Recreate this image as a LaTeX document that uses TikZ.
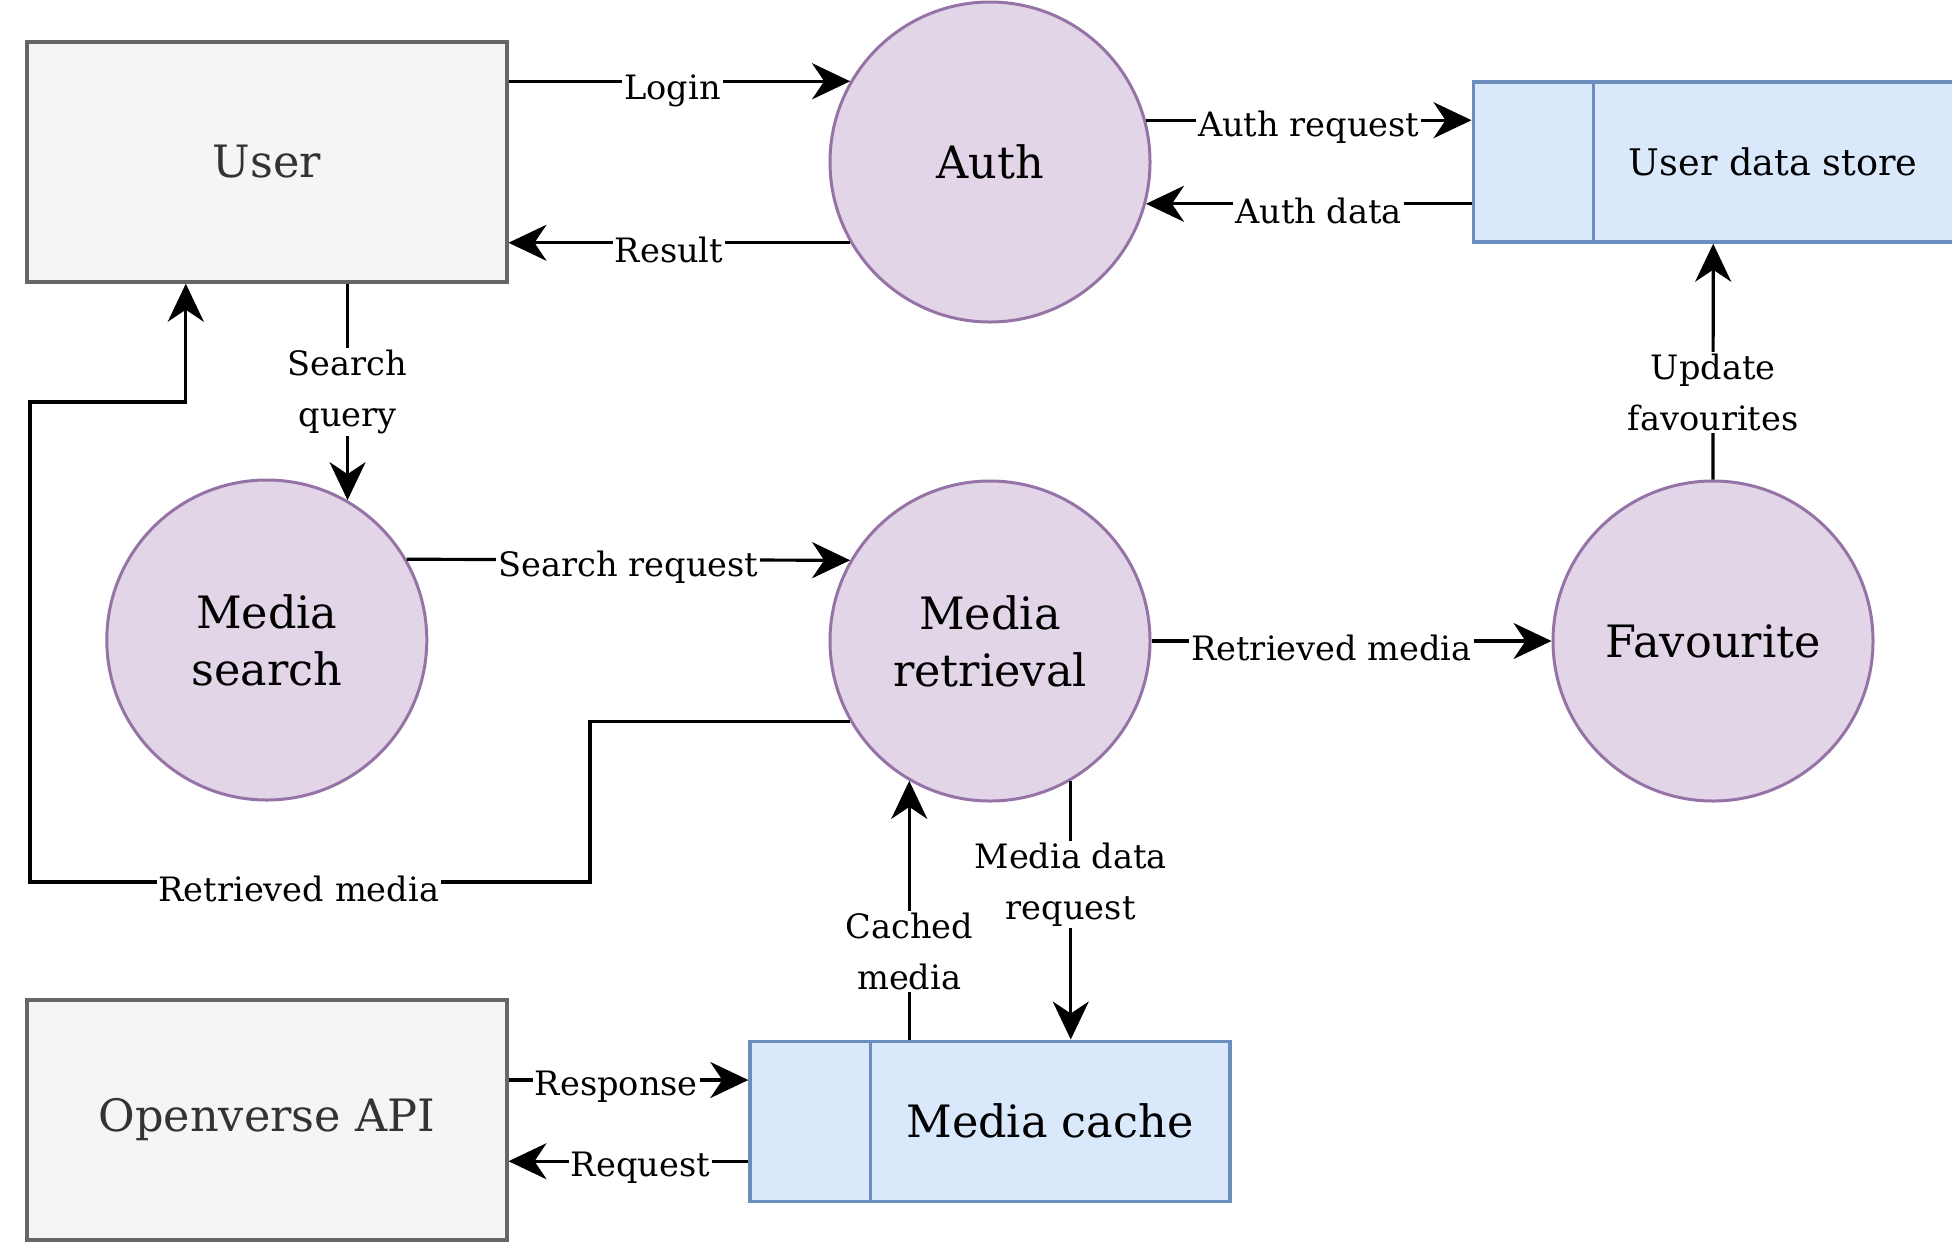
\documentclass[tikz,border=0pt]{standalone}
\usepackage{fontspec}
\setmainfont{DejaVu Serif}
\usetikzlibrary{arrows.meta, positioning, calc}
\definecolor{extfill}{HTML}{F5F5F5}
\definecolor{extline}{HTML}{666666}
\definecolor{exttext}{HTML}{333333}
\definecolor{procfill}{HTML}{E1D5E7}
\definecolor{procline}{HTML}{9673A6}
\definecolor{storefill}{HTML}{DAE8FC}
\definecolor{storeline}{HTML}{6C8EBF}
\tikzset{
  extent/.style={rectangle, draw=extline, fill=extfill, line width=1.7pt,
                 minimum width=240pt, minimum height=120pt,
                 text=exttext, font=\fontsize{22.3}{28}\selectfont},
  proc/.style={circle, draw=procline, fill=procfill, line width=1.5pt,
               minimum size=160pt, align=center,
               font=\fontsize{22.3}{28.5}\selectfont},
  store/.style={rectangle, draw=storeline, fill=storefill, line width=1.7pt,
                minimum width=240pt, minimum height=80pt,
                font=\fontsize{22.3}{28}\selectfont,
                execute at begin node=\hspace*{60pt},
                path picture={\draw[storeline, line width=1.5pt]
                  ([xshift=60pt]path picture bounding box.north west) --
                  ([xshift=60pt]path picture bounding box.south west);}},
  arr/.style={-{Stealth[length=19pt, width=18pt, inset=6pt]}, line width=1.6pt},
  lbl/.style={fill=white, inner sep=1pt, align=center,
              font=\fontsize{16.8}{25.5}\selectfont},
  hlbl/.style={lbl, yshift=-3.5pt},
}

\begin{document}
\begin{tikzpicture}[x=0.5pt, y=-0.5pt]
  \useasboundingbox (0,0) rectangle (1952,1244);

  % processes, entities and stores
  \node[proc] (auth) at (990,162) {Auth};
  \node[extent, left=160pt of auth] (user) {User};
  \node[store, right=160pt of auth, font=\fontsize{18.3}{22}\selectfont] (uds) {User data store};
  \node[proc, below=78pt of auth] (mretr) {Media\\retrieval};
  \node[proc, below=97.4pt of user] (msearch) {Media\\search};
  \node[proc, right=200pt of mretr] (fav) {Favourite};
  \node[store, below=118.5pt of mretr] (cache) {Media cache};
  \node[extent, below=98.4pt of msearch] (api) {Openverse API};

  % flows
  \draw[arr] (user.east |- auth.150) -- node[hlbl, pos=0.48, yshift=-1.5pt]{Login} (auth.150);
  \draw[arr] (auth.210) -- node[hlbl, pos=0.53]{Result} (auth.210 -| user.east);
  \draw[arr] (auth.15) -- node[hlbl]{Auth request} (auth.15 -| uds.west);
  \draw[arr] (uds.west |- auth.-15) -- node[hlbl, pos=0.47]{Auth data} (auth.-15);
  \draw[arr] (msearch.60 |- user.south) -- node[lbl]{Search\\query} (msearch.60);
  \draw[arr] (msearch.30) -- node[hlbl]{Search request} (mretr.150);
  \draw[arr] (mretr.east) -- node[hlbl, pos=0.45]{Retrieved media} (fav.west);
  \draw[arr] (fav.north) -- node[lbl, pos=0.37]{Update\\favourites} (uds.south);
  \draw[arr] (mretr.240 |- cache.north) -- node[lbl, pos=0.34]{Cached\\media} (mretr.240);
  \draw[arr] (mretr.300) -- node[lbl, pos=0.4]{Media data\\request} (mretr.300 |- cache.north);
  \draw[arr] ([yshift=20pt]api.east) -- node[hlbl, pos=0.45]{Response} ([yshift=20pt]api.east -| cache.west);
  \draw[arr] ([yshift=-20pt]cache.west) -- node[hlbl, pos=0.45]{Request} ([yshift=-20pt]cache.west -| api.east);

  % results back to the user
  \coordinate (loopA) at (590,882);
  \coordinate (loopB) at (30,402);
  \draw[arr] (mretr.210) -| (loopA) -- node[hlbl, pos=0.52]{Retrieved media} (loopA -| loopB)
    -- (loopB) -| ([xshift=-40.5pt]user.south);
\end{tikzpicture}
\end{document}
